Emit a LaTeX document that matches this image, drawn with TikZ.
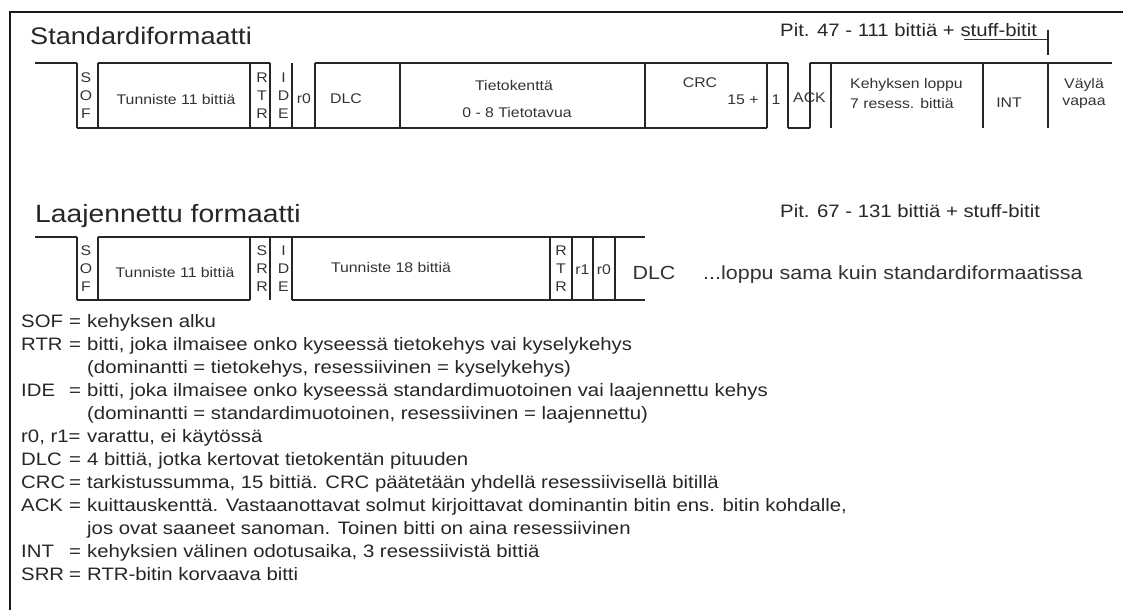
\documentclass[tikz,border=0pt]{standalone}
\usepackage{fontspec}
\setmainfont{Liberation Sans}[FakeStretch=1.13]
\begin{document}
\begin{tikzpicture}[x=1pt,y=-1pt,
  sig/.style={line width=1.3pt, draw=black!85},
  frm/.style={line width=2pt, draw=black!90},
  bt/.style={font=\fontsize{14}{18}\selectfont, text=black!80, inner sep=0pt, align=center},
  ttl/.style={anchor=base west, inner sep=0pt, text=black!85},
  lg/.style={font=\fontsize{18}{23}\selectfont, anchor=base west, inner sep=0pt, text=black!85}
]
\useasboundingbox (0,0) rectangle (1123,610);
% frame
\draw[frm] (10,610) -- (10,12) -- (1123,12);

% ---------- standard format ----------
\node[ttl, font=\fontsize{24}{28}\selectfont] (t1) at (30,45) {Standardiformaatti};
\node[ttl, font=\fontsize{18}{22}\selectfont] (p1) at (780,36.5) {Pit. 47 - 111 bittiä + stuff-bitit};
\draw[line width=1pt, black!80] (964,39.5) -- (1048,39.5);
\draw[sig] (1048,30) -- (1048,55);

\draw[sig] (35,63) -- (77,63);
\draw[sig] (98,63) -- (270,63);
\draw[sig] (315,63) -- (788,63);
\draw[sig] (810,63) -- (1112,63);
\draw[sig] (77,128) -- (767,128);
\draw[sig] (788,128) -- (810,128);
\foreach \x in {77,98,250,270,292,315,400,645,767,788,810,831,983,1048}
  \draw[sig] (\x,63) -- (\x,128);

\node[bt] (s-sof) at (86,95.5) {S\\O\\F};
\node[bt] (s-id) at (176,99) {Tunniste 11 bittiä};
\node[bt] (s-rtr) at (262,95.5) {R\\T\\R};
\node[bt] (s-ide) at (283.5,95.5) {I\\D\\E};
\node[bt] (s-r0) at (304,99) {r0};
\node[bt] (s-dlc) at (346,99) {DLC};
\node[bt] (s-data1) at (514,85) {Tietokenttä};
\node[bt] (s-data2) at (517,112) {0 - 8 Tietotavua};
\node[bt] (s-crc1) at (700,83) {CRC};
\node[bt] (s-crc2) at (743,100) {15 +};
\node[bt] (s-one) at (776,100) {1};
\node[bt] (s-ack) at (809.5,98) {ACK};
\node[bt, anchor=west] (s-eof1) at (850,85) {Kehyksen loppu};
\node[bt, anchor=west] (s-eof2) at (850,103) {7 resess. bittiä};
\node[bt] (s-int) at (1009,103) {INT};
\node[bt] (s-idle1) at (1084,85) {Väylä};
\node[bt] (s-idle2) at (1084,103) {vapaa};

% ---------- extended format ----------
\node[ttl, font=\fontsize{25}{29}\selectfont] (t2) at (35,222) {Laajennettu formaatti};
\node[ttl, font=\fontsize{18}{22}\selectfont] (p2) at (780,217.5) {Pit. 67 - 131 bittiä + stuff-bitit};

\draw[sig] (35,237) -- (77,237);
\draw[sig] (98,237) -- (645,237);
\draw[sig] (77,300) -- (250,300);
\draw[sig] (292,300) -- (645,300);
\foreach \x in {77,98,250,270,292,550,572,593,615}
  \draw[sig] (\x,237) -- (\x,300);

\node[bt] (e-sof) at (86,268.5) {S\\O\\F};
\node[bt] (e-id) at (175,272) {Tunniste 11 bittiä};
\node[bt] (e-srr) at (262,268.5) {S\\R\\R};
\node[bt] (e-ide) at (283.5,268.5) {I\\D\\E};
\node[bt] (e-id2) at (391,267) {Tunniste 18 bittiä};
\node[bt] (e-rtr) at (561,268.5) {R\\T\\R};
\node[bt] (e-r1) at (582.5,270) {r1};
\node[bt] (e-r0) at (604,270) {r0};
\node[bt, font=\fontsize{19}{22}\selectfont] (e-dlc) at (654,273) {DLC};
\node[bt, anchor=west, font=\fontsize{19}{22}\selectfont] (e-rest) at (703,275) {...loppu sama kuin standardiformaatissa};

% ---------- legend ----------
\def\lx{21}\def\ex{69}\def\tx{87}
\node[lg] (l1a) at (\lx,327) {SOF};  \node[lg] (l1b) at (\ex,327) {=}; \node[lg] (l1c) at (\tx,327) {kehyksen alku};
\node[lg] (l2a) at (\lx,350) {RTR};  \node[lg] (l2b) at (\ex,350) {=}; \node[lg] (l2c) at (\tx,350) {bitti, joka ilmaisee onko kyseessä tietokehys vai kyselykehys};
\node[lg] (l3c) at (\tx,373) {(dominantti = tietokehys, resessiivinen = kyselykehys)};
\node[lg] (l4a) at (\lx,396) {IDE};  \node[lg] (l4b) at (\ex,396) {=}; \node[lg] (l4c) at (\tx,396) {bitti, joka ilmaisee onko kyseessä standardimuotoinen vai laajennettu kehys};
\node[lg] (l5c) at (\tx,419) {(dominantti = standardimuotoinen, resessiivinen = laajennettu)};
\node[lg] (l6a) at (\lx,442) {r0, r1=}; \node[lg] (l6c) at (\tx,442) {varattu, ei käytössä};
\node[lg] (l7a) at (\lx,465) {DLC};  \node[lg] (l7b) at (\ex,465) {=}; \node[lg] (l7c) at (\tx,465) {4 bittiä, jotka kertovat tietokentän pituuden};
\node[lg] (l8a) at (\lx,488) {CRC};  \node[lg] (l8b) at (\ex,488) {=}; \node[lg] (l8c) at (\tx,488) {tarkistussumma, 15 bittiä. CRC päätetään yhdellä resessiivisellä bitillä};
\node[lg] (l9a) at (\lx,511) {ACK};  \node[lg] (l9b) at (\ex,511) {=}; \node[lg] (l9c) at (\tx,511) {kuittauskenttä. Vastaanottavat solmut kirjoittavat dominantin bitin ens. bitin kohdalle,};
\node[lg] (l10c) at (\tx,534) {jos ovat saaneet sanoman. Toinen bitti on aina resessiivinen};
\node[lg] (l11a) at (\lx,557) {INT};  \node[lg] (l11b) at (\ex,557) {=}; \node[lg] (l11c) at (\tx,557) {kehyksien välinen odotusaika, 3 resessiivistä bittiä};
\node[lg] (l12a) at (\lx,580) {SRR};  \node[lg] (l12b) at (\ex,580) {=}; \node[lg] (l12c) at (\tx,580) {RTR-bitin korvaava bitti};
\end{tikzpicture}
\end{document}
